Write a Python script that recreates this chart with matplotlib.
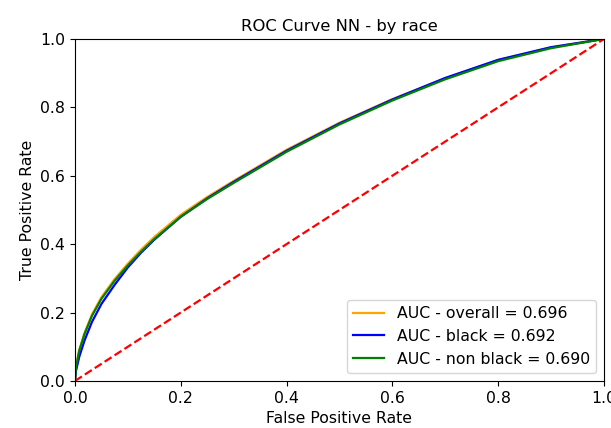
import matplotlib
matplotlib.use("Agg")
import matplotlib.pyplot as plt

fpr = [0, 0.002, 0.008, 0.018, 0.032, 0.05, 0.075, 0.1, 0.125, 0.15, 0.2,
       0.25, 0.3, 0.4, 0.5, 0.6, 0.7, 0.8, 0.9, 1.0]
tpr_overall = [0, 0.042, 0.09, 0.14, 0.194, 0.245, 0.298, 0.343, 0.384, 0.421, 0.486,
               0.538, 0.585, 0.676, 0.755, 0.824, 0.885, 0.938, 0.975, 1.0]
tpr_black = [0, 0.03, 0.07, 0.118, 0.172, 0.225, 0.281, 0.332, 0.375, 0.413, 0.48,
             0.534, 0.582, 0.673, 0.753, 0.823, 0.886, 0.939, 0.976, 1.0]
tpr_nonblack = [0, 0.04, 0.088, 0.137, 0.19, 0.24, 0.293, 0.338, 0.378, 0.415, 0.48,
                0.532, 0.579, 0.67, 0.75, 0.82, 0.882, 0.935, 0.973, 1.0]
labels = ["AUC - overall = 0.696", "AUC - black = 0.692", "AUC - non black = 0.690"]

fig = plt.figure(figsize=(6.11, 4.28), dpi=100)
ax = fig.add_axes([0.1227, 0.110, 0.8658, 0.799])
ax.plot(fpr, tpr_overall, color="orange", label=labels[0], lw=1.6)
ax.plot(fpr, tpr_black, color="blue", label=labels[1], lw=1.6)
ax.plot(fpr, tpr_nonblack, color="green", label=labels[2], lw=1.6)
ax.plot([0, 1], [0, 1], "r--", lw=1.6)
ax.set_xlim(0, 1)
ax.set_ylim(0, 1)
ax.tick_params(labelsize=11.3)
ax.set_title("ROC Curve NN - by race", fontsize=11.8)
ax.set_xlabel("False Positive Rate", fontsize=11.3)
ax.set_ylabel("True Positive Rate", fontsize=11.3)
ax.legend(loc="lower right", fontsize=11.3)
fig.savefig("out.png", dpi=100)
